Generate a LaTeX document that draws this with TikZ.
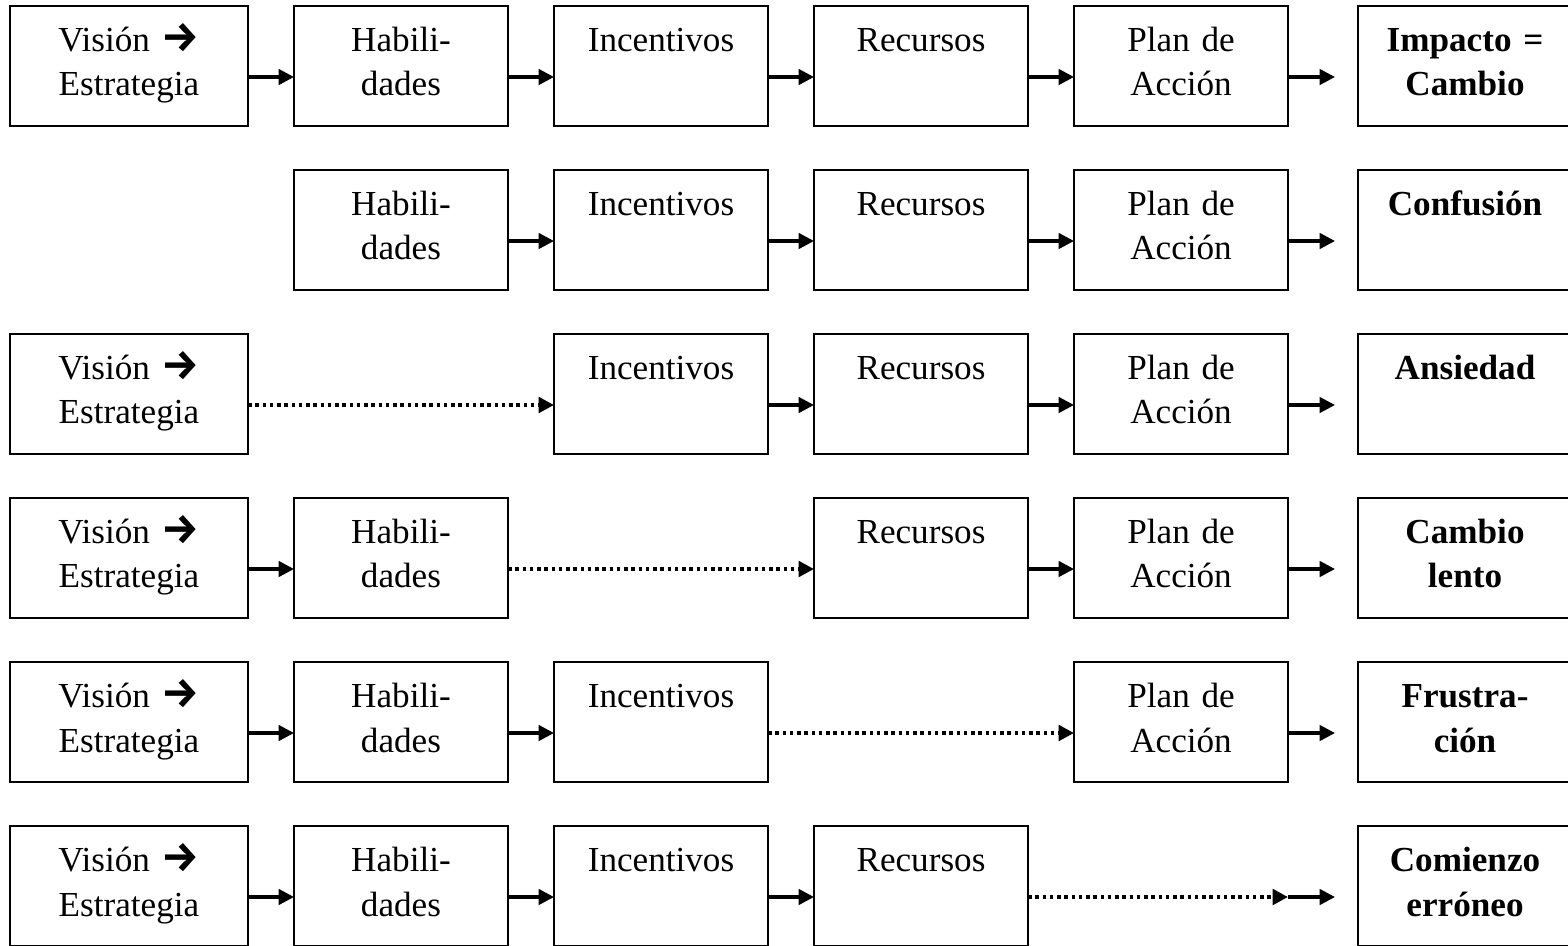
\documentclass[tikz,border=0pt]{standalone}
\usepackage{fontspec}
\setmainfont{Liberation Serif}
\newfontfamily\arrowfont{Fira Sans}
\usepackage{tikz}
\usetikzlibrary{positioning,arrows.meta}
\tikzset{
    box/.style={rectangle, draw, line width=1.1pt, outer sep=0pt, inner xsep=0pt, inner ysep=0pt, text width=4.28cm, align=center, text height=0.9cm, text depth=1.5cm, font=\fontsize{20}{25.6}\selectfont},
    wide/.style={box, text width=4.76cm},
    result/.style={box, font=\fontsize{20}{25.6}\selectfont\bfseries},
    arrow/.style={-{Triangle[length=0.31cm, width=0.31cm]}, line width=1.9pt},
    dotarrow/.style={arrow, line width=2.2pt, dash pattern=on 0.07cm off 0.075cm}
}

\begin{document}
\begin{tikzpicture}[node distance=0.92cm]

\useasboundingbox (0,0) rectangle (31.36,-18.9);

% Row 1: all elements
\node[wide, anchor=north west] at (0.2,-0.12) (vis1) {Visión {\arrowfont\bfseries\fontsize{24}{24}\selectfont →}\\Estrategia};
\node[box, right=of vis1] (hab1) {Habili-\\dades};
\node[box, right=of hab1] (inc1) {Incentivos};
\node[box, right=of inc1] (rec1) {Recursos};
\node[box, right=of rec1] (plan1) {Plan de\\Acción};
\node[result, right=1.4cm of plan1] (res1) {Impacto =\\Cambio};

\draw[arrow] ([yshift=-2.2mm]vis1.east) -- ([yshift=-2.2mm]hab1.west);
\draw[arrow] ([yshift=-2.2mm]hab1.east) -- ([yshift=-2.2mm]inc1.west);
\draw[arrow] ([yshift=-2.2mm]inc1.east) -- ([yshift=-2.2mm]rec1.west);
\draw[arrow] ([yshift=-2.2mm]rec1.east) -- ([yshift=-2.2mm]plan1.west);
\draw[arrow, shorten >=0.46cm] ([yshift=-2.2mm]plan1.east) -- ([yshift=-2.2mm]res1.west);

% Row 2: no vision
\node[box, anchor=north west] at (5.88,-3.4) (hab2) {Habili-\\dades};
\node[box, right=of hab2] (inc2) {Incentivos};
\node[box, right=of inc2] (rec2) {Recursos};
\node[box, right=of rec2] (plan2) {Plan de\\Acción};
\node[result, right=1.4cm of plan2] (res2) {Confusión};

\draw[arrow] ([yshift=-2.2mm]hab2.east) -- ([yshift=-2.2mm]inc2.west);
\draw[arrow] ([yshift=-2.2mm]inc2.east) -- ([yshift=-2.2mm]rec2.west);
\draw[arrow] ([yshift=-2.2mm]rec2.east) -- ([yshift=-2.2mm]plan2.west);
\draw[arrow, shorten >=0.46cm] ([yshift=-2.2mm]plan2.east) -- ([yshift=-2.2mm]res2.west);

% Row 3: no skills
\node[wide, anchor=north west] at (0.2,-6.68) (vis3) {Visión {\arrowfont\bfseries\fontsize{24}{24}\selectfont →}\\Estrategia};
\node[box, right=6.12cm of vis3] (inc3) {Incentivos};
\node[box, right=of inc3] (rec3) {Recursos};
\node[box, right=of rec3] (plan3) {Plan de\\Acción};
\node[result, right=1.4cm of plan3] (res3) {Ansiedad};

\draw[dotarrow] ([yshift=-2.2mm]vis3.east) -- ([yshift=-2.2mm]inc3.west);
\draw[arrow] ([yshift=-2.2mm]inc3.east) -- ([yshift=-2.2mm]rec3.west);
\draw[arrow] ([yshift=-2.2mm]rec3.east) -- ([yshift=-2.2mm]plan3.west);
\draw[arrow, shorten >=0.46cm] ([yshift=-2.2mm]plan3.east) -- ([yshift=-2.2mm]res3.west);

% Row 4: no incentives
\node[wide, anchor=north west] at (0.2,-9.96) (vis4) {Visión {\arrowfont\bfseries\fontsize{24}{24}\selectfont →}\\Estrategia};
\node[box, right=of vis4] (hab4) {Habili-\\dades};
\node[box, right=6.12cm of hab4] (rec4) {Recursos};
\node[box, right=of rec4] (plan4) {Plan de\\Acción};
\node[result, right=1.4cm of plan4] (res4) {Cambio\\lento};

\draw[arrow] ([yshift=-2.2mm]vis4.east) -- ([yshift=-2.2mm]hab4.west);
\draw[dotarrow] ([yshift=-2.2mm]hab4.east) -- ([yshift=-2.2mm]rec4.west);
\draw[arrow] ([yshift=-2.2mm]rec4.east) -- ([yshift=-2.2mm]plan4.west);
\draw[arrow, shorten >=0.46cm] ([yshift=-2.2mm]plan4.east) -- ([yshift=-2.2mm]res4.west);

% Row 5: no resources
\node[wide, anchor=north west] at (0.2,-13.24) (vis5) {Visión {\arrowfont\bfseries\fontsize{24}{24}\selectfont →}\\Estrategia};
\node[box, right=of vis5] (hab5) {Habili-\\dades};
\node[box, right=of hab5] (inc5) {Incentivos\hspace*{0.48cm}};
\node[box, right=6.12cm of inc5] (plan5) {Plan de\\Acción};
\node[result, right=1.4cm of plan5] (res5) {Frustra-\\ción};

\draw[arrow] ([yshift=-2.2mm]vis5.east) -- ([yshift=-2.2mm]hab5.west);
\draw[arrow] ([yshift=-2.2mm]hab5.east) -- ([yshift=-2.2mm]inc5.west);
\draw[dotarrow] ([yshift=-2.2mm]inc5.east) -- ([yshift=-2.2mm]plan5.west);
\draw[arrow, shorten >=0.46cm] ([yshift=-2.2mm]plan5.east) -- ([yshift=-2.2mm]res5.west);

% Row 6: no action plan
\node[wide, anchor=north west] at (0.2,-16.52) (vis6) {Visión {\arrowfont\bfseries\fontsize{24}{24}\selectfont →}\\Estrategia};
\node[box, right=of vis6] (hab6) {Habili-\\dades};
\node[box, right=of hab6] (inc6) {Incentivos};
\node[box, right=of inc6] (rec6) {Recursos};
\node[result, right=6.6cm of rec6] (res6) {Comienzo\\erróneo};
\coordinate (end6) at ([xshift=5.2cm, yshift=-2.2mm]rec6.east);

\draw[arrow] ([yshift=-2.2mm]vis6.east) -- ([yshift=-2.2mm]hab6.west);
\draw[arrow] ([yshift=-2.2mm]hab6.east) -- ([yshift=-2.2mm]inc6.west);
\draw[arrow] ([yshift=-2.2mm]inc6.east) -- ([yshift=-2.2mm]rec6.west);
\draw[dotarrow] ([yshift=-2.2mm]rec6.east) -- (end6);
\draw[arrow, shorten >=0.46cm] (end6) -- ([yshift=-2.2mm]res6.west);

\end{tikzpicture}
\end{document}
